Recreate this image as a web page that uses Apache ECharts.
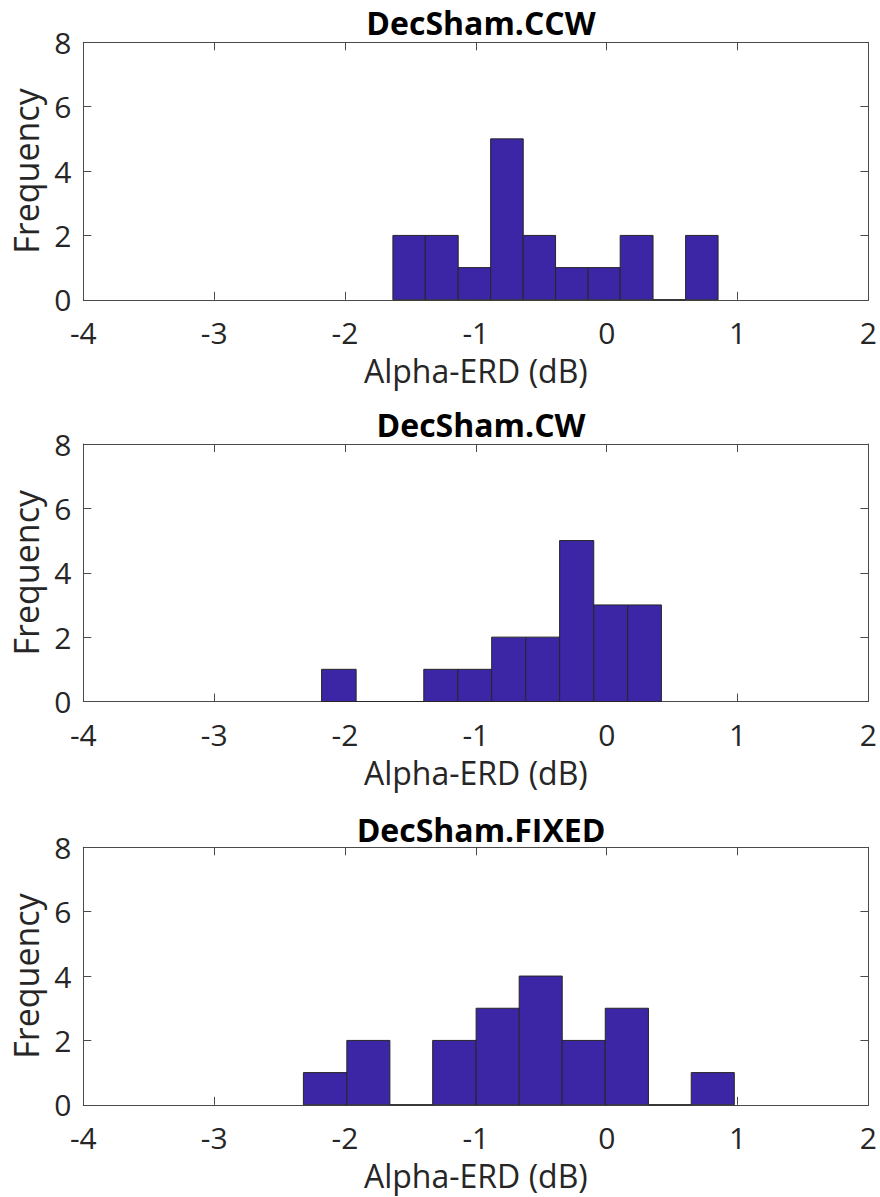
<!DOCTYPE html>
<html>
<head>
<meta charset="utf-8">
<script src="https://cdn.jsdelivr.net/npm/echarts@6/dist/echarts.min.js"></script>
<style>html,body{margin:0;padding:0;background:#fff}#c{width:880px;height:1197px}</style>
</head>
<body>
<div id="c"></div>
<script>
const titles = ['DecSham.CCW', 'DecSham.CW', 'DecSham.FIXED'];
const xTicks = [-4, -3, -2, -1, 0, 1, 2];
const yTicks = [0, 2, 4, 6, 8];
const xLabel = 'Alpha-ERD (dB)';
const yLabel = 'Frequency';

const ccwEdges = [-1.634, -1.386, -1.135, -0.887, -0.638, -0.391, -0.142, 0.103, 0.354, 0.603, 0.851];
const ccwCounts = [2, 2, 1, 5, 2, 1, 1, 2, 0, 2];
const cwEdges = [-2.179, -1.915, -1.657, -1.398, -1.138, -0.879, -0.619, -0.360, -0.099, 0.160, 0.418];
const cwCounts = [1, 0, 0, 1, 1, 2, 2, 5, 3, 3];
const fixedEdges = [-2.318, -1.986, -1.657, -1.330, -0.998, -0.669, -0.340, -0.011, 0.319, 0.646, 0.975];
const fixedCounts = [1, 2, 0, 2, 3, 4, 2, 3, 0, 1];

const panels = [[ccwEdges, ccwCounts], [cwEdges, cwCounts], [fixedEdges, fixedCounts]];
const gridTops = [42.3, 444, 847.3];
const gridH = 257.5;
const titleTops = [4, 406, 811];

const FONT = 'Open Sans';
const TXT = '#262626';
const AX = '#4a4a4a';

const grids = [], xAxes = [], yAxes = [], series = [], title = [];
panels.forEach((p, i) => {
  grids.push({ left: 83.3, right: 7, top: gridTops[i], height: gridH, containLabel: false });
  title.push({
    text: titles[i], left: 476, top: titleTops[i], textAlign: 'center',
    textStyle: { fontFamily: FONT, fontWeight: 'bold', fontSize: 32, lineHeight: 26, color: '#000' }
  });
  const axLine = { show: true, onZero: false, lineStyle: { color: AX, width: 1 } };
  const tick = { show: true, inside: true, length: 8, lineStyle: { color: AX, width: 1 } };
  xAxes.push({
    type: 'value', gridIndex: i, position: 'bottom', min: xTicks[0], max: xTicks[xTicks.length - 1], interval: 1,
    axisLine: axLine, axisTick: tick, splitLine: { show: false },
    axisLabel: { fontFamily: FONT, fontSize: 30, lineHeight: 30, color: TXT, margin: 18 },
    name: xLabel, nameLocation: 'middle', nameGap: 55,
    nameTextStyle: { fontFamily: FONT, fontSize: 32, lineHeight: 32, color: TXT }
  });
  xAxes.push({
    type: 'value', gridIndex: i, position: 'top', min: xTicks[0], max: xTicks[xTicks.length - 1], interval: 1,
    axisLine: axLine, axisTick: tick, splitLine: { show: false }, axisLabel: { show: false }
  });
  yAxes.push({
    type: 'value', gridIndex: i, position: 'left', min: yTicks[0], max: yTicks[yTicks.length - 1], interval: 2,
    axisLine: axLine, axisTick: tick, splitLine: { show: false },
    axisLabel: { fontFamily: FONT, fontSize: 30, lineHeight: 30, color: TXT, margin: 12 },
    name: yLabel, nameLocation: 'middle', nameGap: 38,
    nameTextStyle: { fontFamily: FONT, fontSize: 34, lineHeight: 34, color: TXT }
  });
  yAxes.push({
    type: 'value', gridIndex: i, position: 'right', min: yTicks[0], max: yTicks[yTicks.length - 1], interval: 2,
    axisLine: axLine, axisTick: tick, splitLine: { show: false }, axisLabel: { show: false }
  });
  const edges = p[0], counts = p[1];
  const data = counts.map((c, k) => [edges[k], edges[k + 1], c]);
  series.push({
    type: 'custom', xAxisIndex: 2 * i, yAxisIndex: 2 * i, data: data,
    encode: { x: [0, 1], y: 2 },
    renderItem: function (params, api) {
      const a = api.coord([api.value(0), 0]);
      const b = api.coord([api.value(1), api.value(2)]);
      return {
        type: 'rect',
        shape: { x: a[0], y: b[1], width: b[0] - a[0], height: a[1] - b[1] },
        style: { fill: '#3c26a6', stroke: '#262626', lineWidth: 1 }
      };
    }
  });
});

const chart = echarts.init(document.getElementById('c'), null, { renderer: 'svg' });
chart.setOption({
  animation: false,
  backgroundColor: '#fff',
  title: title,
  grid: grids,
  xAxis: xAxes,
  yAxis: yAxes,
  series: series
});
</script>
</body>
</html>
